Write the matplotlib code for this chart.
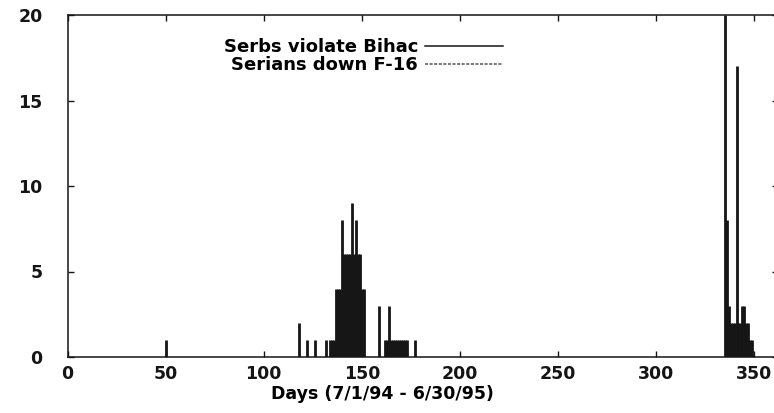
import matplotlib
matplotlib.use("Agg")
import matplotlib.pyplot as plt
from matplotlib.lines import Line2D

# ---- data (counts per day) ----
bihac_days = [50, 118, 122, 126, 132, 134, 135, 136,
              137, 138, 139, 140, 141, 142, 143, 144, 145, 146, 147, 148, 149, 150, 151,
              159, 162, 163, 164, 165, 166, 167, 168, 169, 170, 171, 172, 173, 177]
bihac_counts = [1, 2, 1, 1, 1, 1, 1, 1,
                4, 4, 4, 8, 6, 6, 6, 6, 9, 6, 8, 6, 6, 4, 4,
                3, 1, 1, 3, 1, 1, 1, 1, 1, 1, 1, 1, 1, 1]

f16_days = [335, 336, 337, 338, 339, 340, 341, 342, 343, 344, 345, 346, 347, 348, 349]
f16_counts = [20, 8, 3, 2, 2, 2, 17, 2, 2, 3, 3, 2, 2, 1, 1]

series_labels = ["Serbs violate Bihac", "Serians down F-16"]
x_ticks = [0, 50, 100, 150, 200, 250, 300, 350]
y_ticks = [0, 5, 10, 15, 20]
x_label = "Days (7/1/94 - 6/30/95)"

# ---- figure ----
plt.rcParams['font.family'] = ['DejaVu Sans']
plt.rcParams['font.weight'] = 'bold'
W, H = 774, 413
fig = plt.figure(figsize=(W / 100, H / 100), dpi=100)
ax = fig.add_axes([67.5 / W, (H - 357) / H, 710.2 / W, 342 / H])

ink = "#151515"
ax.vlines(bihac_days, 0, bihac_counts, colors=ink, linewidth=2.0)
ax.vlines(f16_days, 0, f16_counts, colors=ink, linewidth=2.0)

ax.set_xlim(0, 362)
ax.set_ylim(0, 20)
ax.set_xticks(x_ticks)
ax.set_yticks(y_ticks)

for s in ax.spines.values():
    s.set_linewidth(1.1)
    s.set_color(ink)

ax.tick_params(axis='both', which='both', direction='in', length=4, width=1.0,
               top=True, right=True, colors=ink, labelsize=12.5)
ax.tick_params(axis='y', pad=18)
ax.tick_params(axis='x', pad=6)

ax.set_xlabel(x_label, fontsize=12.5, fontweight='bold')
ax.xaxis.set_label_coords(0.443, -0.082)

handles = [Line2D([], [], color=ink, linewidth=1.1),
           Line2D([], [], color="#555555", linewidth=1.1, linestyle=(0, (2, 1)))]
fig.legend(handles, series_labels, loc='upper right',
           bbox_to_anchor=(503 / W, 1 - 38 / H), frameon=False,
           fontsize=13, handlelength=4.3, handletextpad=0.4,
           labelspacing=0.0, borderpad=0, borderaxespad=0, markerfirst=False)

fig.savefig("out.png", dpi=100, facecolor="white")
